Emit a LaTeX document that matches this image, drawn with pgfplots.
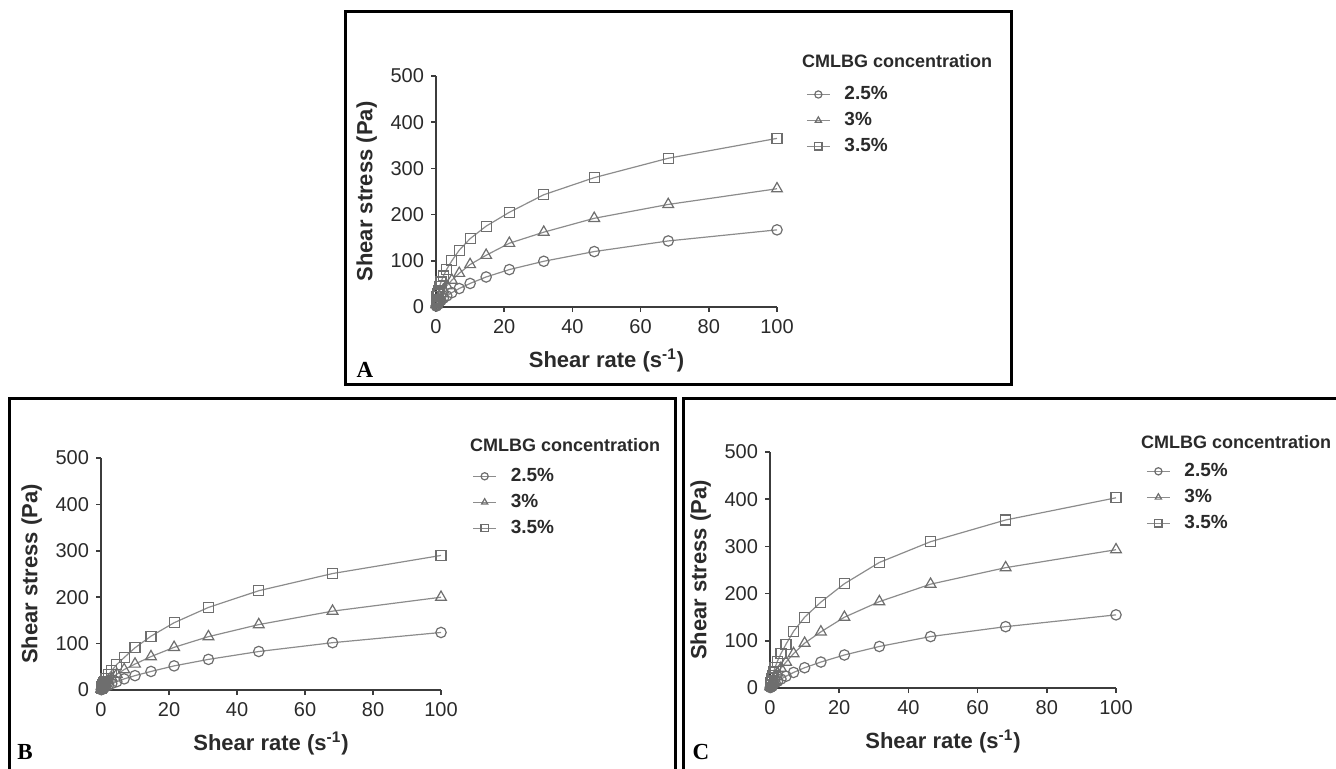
\documentclass[border=0pt]{standalone}
\usepackage{pgfplots}
\pgfplotsset{compat=1.18}
\usepackage{fontspec}
\setmainfont{Liberation Sans}
\newfontfamily\panelfont{Liberation Serif}
\definecolor{ln}{HTML}{8C8C8C}
\definecolor{mk}{HTML}{6E6E6E}
\definecolor{axc}{HTML}{3C3C3C}
\definecolor{txt}{HTML}{2A2A2A}

\pgfplotsset{
  rheo/.style={
    scale only axis,
    xmin=0, xmax=100, ymin=0, ymax=500,
    axis x line*=bottom, axis y line*=left,
    axis line style={draw=axc, line width=0.75pt},
    tick style={draw=axc, line width=0.75pt},
    tick align=outside, major tick length=2.5pt,
    xtick={0,20,...,100}, ytick={0,100,...,500},
    clip=false,
    ticklabel style={font=\fontsize{10}{11}\selectfont, text=txt},
    /pgf/number format/assume math mode=true,
    xlabel={Shear rate (s\textsuperscript{-1})},
    ylabel={Shear stress (Pa)},
    label style={font=\bfseries\fontsize{11}{12}\selectfont, text=txt},
    xlabel style={yshift=-1pt},
    legend style={draw=none, fill=none, anchor=north west,
      font=\bfseries\fontsize{9.5}{10}\selectfont, text=txt,
      row sep=4pt, column sep=7pt,
      nodes={inner sep=0pt, text height=7pt, text depth=2pt, anchor=west}},
    legend cell align=left,
    legend image code/.code={
      \draw[mark repeat=2, mark phase=2, #1, mark size=1.8pt]
        plot coordinates {(0pt,0pt) (5.75pt,0pt) (11.5pt,0pt)};},
    every axis plot/.append style={line width=0.6pt, draw=ln,
      mark options={solid, fill=white, draw=mk, line width=0.6pt}},
  },
  c25/.style={mark=o, mark size=2.6pt},
  c30/.style={mark=triangle, mark size=3.1pt},
  c35/.style={mark=square, mark size=2.5pt},
}

\begin{document}
\begin{tikzpicture}
\useasboundingbox (0pt,0pt) rectangle (668pt,384pt);

% panel frames
\draw[line width=1.5pt] (172.5pt,192pt) rectangle (505.5pt,378pt);
\draw[line width=1.5pt] (4.5pt,-5pt) rectangle (337.5pt,185pt);
\draw[line width=1.5pt] (341.5pt,-5pt) rectangle (680pt,185pt);

% ---------------- A
\begin{axis}[rheo, at={(218pt,230.5pt)}, anchor=south west,
  width=170.5pt, height=115.5pt,
  legend style={at={(rel axis cs:1.067,0.978)}}]
\addplot[c25] coordinates {(100,167) (68.1,143) (46.4,120) (31.6,99) (21.5,81) (14.7,65) (10,51) (6.81,40) (4.64,31) (3.16,24) (2.15,19) (1.47,14) (1,11) (0.681,8) (0.464,6) (0.316,5) (0.215,4) (0.147,3) (0.1,2)};
\addplot[c30] coordinates {(100,256) (68.1,222) (46.4,192) (31.6,162) (21.5,138) (14.7,112) (10,92) (6.81,73) (4.64,58) (3.16,46) (2.15,37) (1.47,29) (1,23) (0.681,18) (0.464,14) (0.316,11) (0.215,8) (0.147,6) (0.1,5)};
\addplot[c35] coordinates {(100,365) (68.1,322) (46.4,280) (31.6,243) (21.5,205) (14.7,175) (10,148) (6.81,123) (4.64,100) (3.16,82) (2.15,67) (1.47,54) (1,44) (0.681,35) (0.464,28) (0.316,22) (0.215,17) (0.147,13) (0.1,10)};
\legend{2.5\%, 3\%, 3.5\%}
\end{axis}
\node[anchor=west, font=\bfseries\fontsize{9}{10}\selectfont, text=txt] at (397.5pt,353.5pt) {CMLBG concentration};
\node[font=\panelfont\bfseries\fontsize{11.5}{12}\selectfont] at (182.5pt,199pt) {A};

% ---------------- B
\begin{axis}[rheo, at={(50.5pt,39pt)}, anchor=south west,
  width=170pt, height=116pt,
  legend style={at={(rel axis cs:1.074,0.979)}}]
\addplot[c25] coordinates {(100,124) (68.1,102) (46.4,83) (31.6,66) (21.5,52) (14.7,40) (10,31) (6.81,24) (4.64,18) (3.16,14) (2.15,10) (1.47,8) (1,6) (0.681,4) (0.464,3) (0.316,2) (0.215,2) (0.147,1) (0.1,1)};
\addplot[c30] coordinates {(100,200) (68.1,170) (46.4,141) (31.6,115) (21.5,92) (14.7,72) (10,56) (6.81,44) (4.64,34) (3.16,26) (2.15,20) (1.47,15) (1,11) (0.681,8) (0.464,6) (0.316,5) (0.215,4) (0.147,3) (0.1,2)};
\addplot[c35] coordinates {(100,290) (68.1,251) (46.4,214) (31.6,178) (21.5,145) (14.7,116) (10,91) (6.81,70) (4.64,55) (3.16,42) (2.15,33) (1.47,25) (1,19) (0.681,15) (0.464,11) (0.316,8) (0.215,6) (0.147,5) (0.1,4)};
\legend{2.5\%, 3\%, 3.5\%}
\end{axis}
\node[anchor=west, font=\bfseries\fontsize{9}{10}\selectfont, text=txt] at (231.5pt,161.5pt) {CMLBG concentration};
\node[font=\panelfont\bfseries\fontsize{11.5}{12}\selectfont] at (12.5pt,8pt) {B};

% ---------------- C
\begin{axis}[rheo, at={(385pt,40pt)}, anchor=south west,
  width=173pt, height=118pt,
  legend style={at={(rel axis cs:1.069,0.975)}}]
\addplot[c25] coordinates {(100,155) (68.1,130) (46.4,109) (31.6,88) (21.5,70) (14.7,55) (10,43) (6.81,33) (4.64,25) (3.16,19) (2.15,14) (1.47,11) (1,8) (0.681,6) (0.464,4) (0.316,3) (0.215,2) (0.147,2) (0.1,1)};
\addplot[c30] coordinates {(100,293) (68.1,255) (46.4,220) (31.6,183) (21.5,150) (14.7,119) (10,95) (6.81,73) (4.64,55) (3.16,42) (2.15,32) (1.47,24) (1,18) (0.681,14) (0.464,10) (0.316,8) (0.215,6) (0.147,4) (0.1,3)};
\addplot[c35] coordinates {(100,403) (68.1,356) (46.4,310) (31.6,266) (21.5,221) (14.7,182) (10,150) (6.81,120) (4.64,93) (3.16,73) (2.15,57) (1.47,44) (1,34) (0.681,26) (0.464,20) (0.316,15) (0.215,11) (0.147,8) (0.1,6)};
\legend{2.5\%, 3\%, 3.5\%}
\end{axis}
\node[anchor=west, font=\bfseries\fontsize{9}{10}\selectfont, text=txt] at (567pt,163pt) {CMLBG concentration};
\node[font=\panelfont\bfseries\fontsize{11.5}{12}\selectfont] at (350.5pt,8pt) {C};
\end{tikzpicture}
\end{document}
